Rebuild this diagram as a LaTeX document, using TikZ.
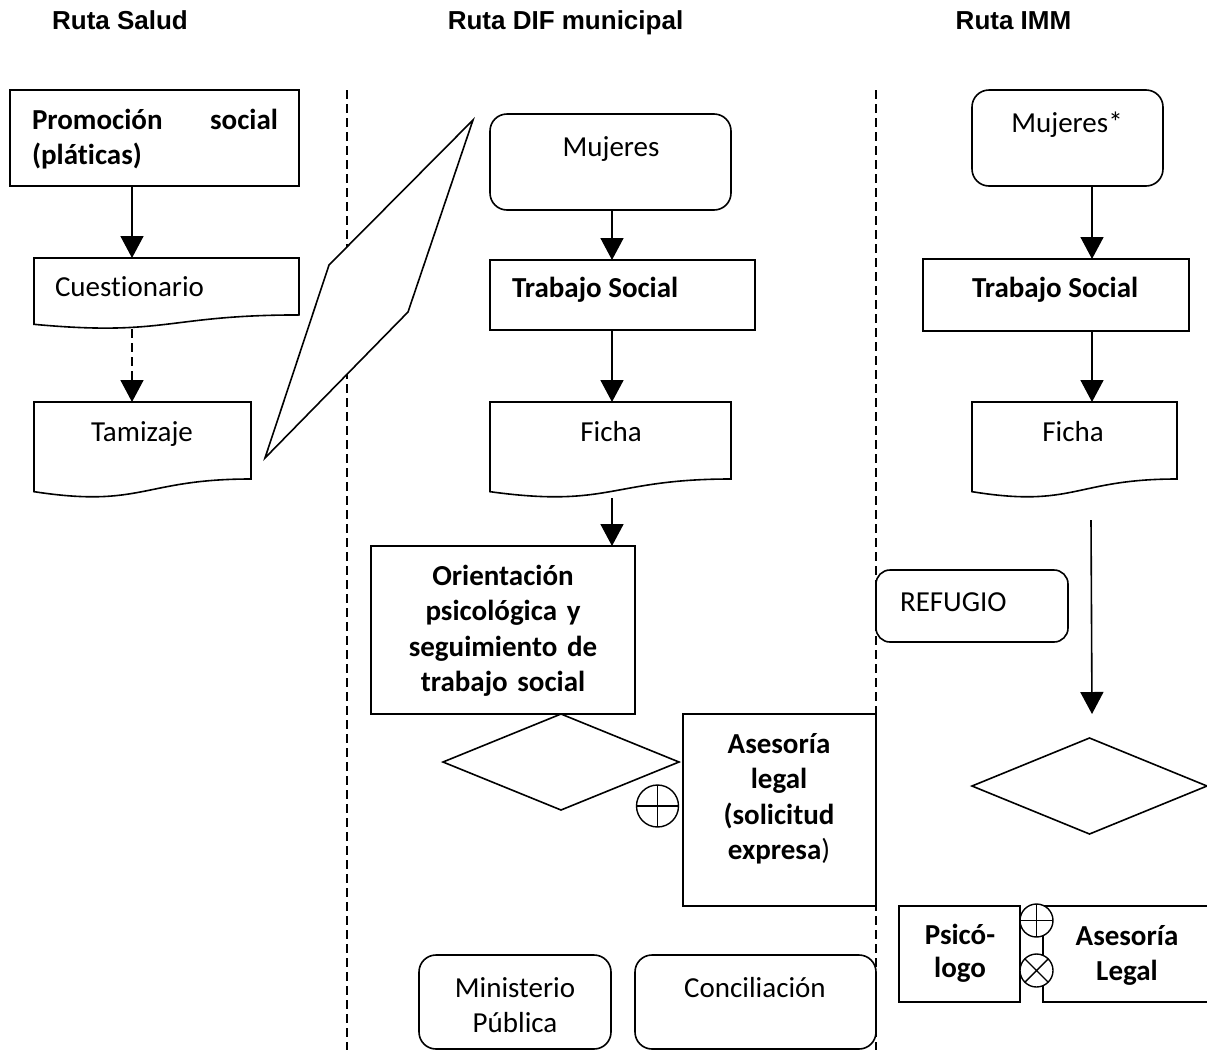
\documentclass[tikz,border=0pt]{standalone}
\usepackage{fontspec}
\setmainfont[Ligatures=NoCommon]{Carlito}
\newfontfamily\headfont{Liberation Sans}
\usetikzlibrary{arrows.meta,calc,shapes.geometric}

% document symbol (wavy bottom edge) drawn over the area of a named node
\newcommand\flowdoc[1]{%
  \draw[shape line, fill=white] (#1.north west) -- (#1.north east)
    -- ($(#1.north east)!0.802!(#1.south east)$)
    .. controls ($(#1.north)!0.802!(#1.south)$) and ($(#1.north)!1.1075!(#1.south)$)
    .. ($(#1.north west)!0.934!(#1.south west)$) -- cycle;}

\begin{document}
\begin{tikzpicture}[x=1pt, y=-1pt,
  every node/.style={inner sep=0pt, outer sep=0pt},
  shape line/.style={line width=1.6pt, line join=miter},
  box/.style={shape line, draw, fill=white, rectangle},
  rbox/.style={box, rounded corners=17pt},
  area/.style={rectangle, anchor=north west},
  txt/.style={anchor=base, font=\fontsize{29pt}{35.5pt}\selectfont},
  btxt/.style={anchor=base, font=\fontsize{29pt}{35.5pt}\selectfont\bfseries},
  head/.style={anchor=base, font=\headfont\bfseries\fontsize{26pt}{30pt}\selectfont},
  lane/.style={line width=1.3pt, dash pattern=on 9pt off 5pt},
  arr/.style={line width=1.6pt, -{Triangle[width=23pt,length=22pt]}},
  darr/.style={arr, dash pattern=on 9pt off 5pt},
  knot/.style={circle, draw, fill=white, line width=1.4pt},
  decision/.style={diamond, draw, fill=white, shape line},
]
\fill[white] (0,0) rectangle (1207,1050);
\useasboundingbox (0,0) rectangle (1207,1050);

% column headings
\node[head] (hSalud) at (120,29) {Ruta Salud};
\node[head] (hDIF)   at (565.5,29) {Ruta DIF municipal};
\node[head] (hIMM)   at (1013.5,29) {Ruta IMM};

% lane separators
\coordinate (laneA1) at (347,90);   \coordinate (laneA2) at (347,1050);
\coordinate (laneB1) at (876,90);   \coordinate (laneB2) at (876,1050);
\draw[lane] (laneA1) -- (laneA2);
\draw[lane] (laneB1) -- (laneB2);

% data symbol between the first two lanes
\draw[shape line, fill=white] (473,120) -- (408,312) -- (265,458) -- (329,265) -- cycle;

% ---------- Ruta Salud ----------
\node[box, minimum width=289pt, minimum height=96pt] (promo) at (154.5,138) {};
\node[area, minimum width=265pt, minimum height=71pt] (cuest) at (34,258) {};
\flowdoc{cuest}
\node[area, minimum width=217pt, minimum height=96pt] (tamiz) at (34,402) {};
\flowdoc{tamiz}

% ---------- Ruta DIF municipal ----------
\node[rbox, minimum width=241pt, minimum height=96pt] (mujA) at (610.5,162) {};
\node[box, minimum width=265pt, minimum height=70pt] (tsA) at (622.5,295) {};
\node[area, minimum width=241pt, minimum height=96pt] (fichaA) at (490,402) {};
\flowdoc{fichaA}
\node[box, minimum width=264pt, minimum height=168pt] (orient) at (503,630) {};
\node[decision, minimum width=236pt, minimum height=96pt] (decA) at (561,762) {};
\node[box, minimum width=193pt, minimum height=192pt] (asesA) at (779.5,810) {};
\node[knot, minimum size=42pt] (orA) at (657.5,806) {};
\draw[line width=1.4pt] (orA.north) -- (orA.south) (orA.west) -- (orA.east);
\node[rbox, minimum width=192pt, minimum height=94pt] (minis) at (515,1002) {};
\node[rbox, minimum width=241pt, minimum height=94pt] (concil) at (755.5,1002) {};

% ---------- Ruta IMM ----------
\node[rbox, minimum width=191pt, minimum height=96pt] (mujB) at (1067.5,138) {};
\node[box, minimum width=266pt, minimum height=72pt] (tsB) at (1056,295) {};
\node[area, minimum width=205pt, minimum height=96pt] (fichaB) at (972,402) {};
\flowdoc{fichaB}
\node[rbox, rounded corners=14pt, minimum width=192pt, minimum height=72pt] (refugio) at (972,606) {};
\node[decision, minimum width=235pt, minimum height=96pt] (decB) at (1089.5,786) {};
\node[box, minimum width=121pt, minimum height=96pt] (psico) at (959.5,954) {};
\node[box, minimum width=172pt, minimum height=96pt] (asesB) at (1129,954) {};
\node[knot, minimum size=33pt] (orB) at (1036.5,920.5) {};
\draw[line width=1.4pt] (orB.north) -- (orB.south) (orB.west) -- (orB.east);
\node[knot, minimum size=33pt] (xorB) at (1036.5,970.5) {};
\draw[line width=1.4pt] (xorB.north west) -- (xorB.south east) (xorB.north east) -- (xorB.south west);

% ---------- connectors ----------
\coordinate (colS) at (132,0);
\coordinate (colD) at (612,0);
\coordinate (colI) at (1092,0);
\draw[arr]  (promo.south -| colS) -- (cuest.north -| colS);
\draw[darr] (cuest.south -| colS) -- (tamiz.north -| colS);
\draw[arr]  (mujA.south -| colD) -- (tsA.north -| colD);
\draw[arr]  (tsA.south -| colD) -- (fichaA.north -| colD);
\draw[arr]  (fichaA.south -| colD) -- (orient.north -| colD);
\draw[arr]  (mujB.south -| colI) -- (tsB.north -| colI);
\draw[arr]  (tsB.south -| colI) -- (fichaB.north -| colI);
\coordinate (runStart) at (1091,520);
\coordinate (runEnd) at (1092,714);
\draw[arr] (runStart) -- (runEnd);

% ---------- texts ----------
\node[btxt, anchor=base west, text width=246pt, align=left] (promoT) at (32,129)
  {Promoción\hfill social\\(pláticas)};
\node[txt, anchor=base west] (cuestT) at (55,296) {Cuestionario};
\node[txt] (tamizT) at (142,441) {Tamizaje};

\node[txt] (mujAT) at (611,156) {Mujeres};
\node[btxt, anchor=base west] (tsAT) at (512,297) {Trabajo Social};
\node[txt] (fichaAT) at (611,441) {Ficha};
\node[btxt, text width=264pt, align=center] (orientT) at (503,585)
  {Orientación\\psicológica y\\seguimiento de\\trabajo social};
\node[btxt, text width=190pt, align=center] (asesAT) at (779,753)
  {Asesoría\\legal\\(solicitud\\expresa{\mdseries)}};
\node[txt, text width=190pt, align=center] (minisT) at (515,997) {Ministerio\\Pública};
\node[txt] (concilT) at (755,997) {Conciliación};

\node[txt] (mujBT) at (1067,132) {Mujeres*};
\node[btxt, anchor=base west] (tsBT) at (972,297) {Trabajo Social};
\node[txt] (fichaBT) at (1073,441) {Ficha};
\node[txt, anchor=base west] (refugioT) at (900,611) {REFUGIO};
\node[btxt, text width=120pt, align=center, font=\fontsize{29pt}{33pt}\selectfont\bfseries] (psicoT) at (960,944) {Psicó-\\logo};
\node[btxt, text width=170pt, align=center] (asesBT) at (1127,945) {Asesoría\\Legal};
\end{tikzpicture}
\end{document}
